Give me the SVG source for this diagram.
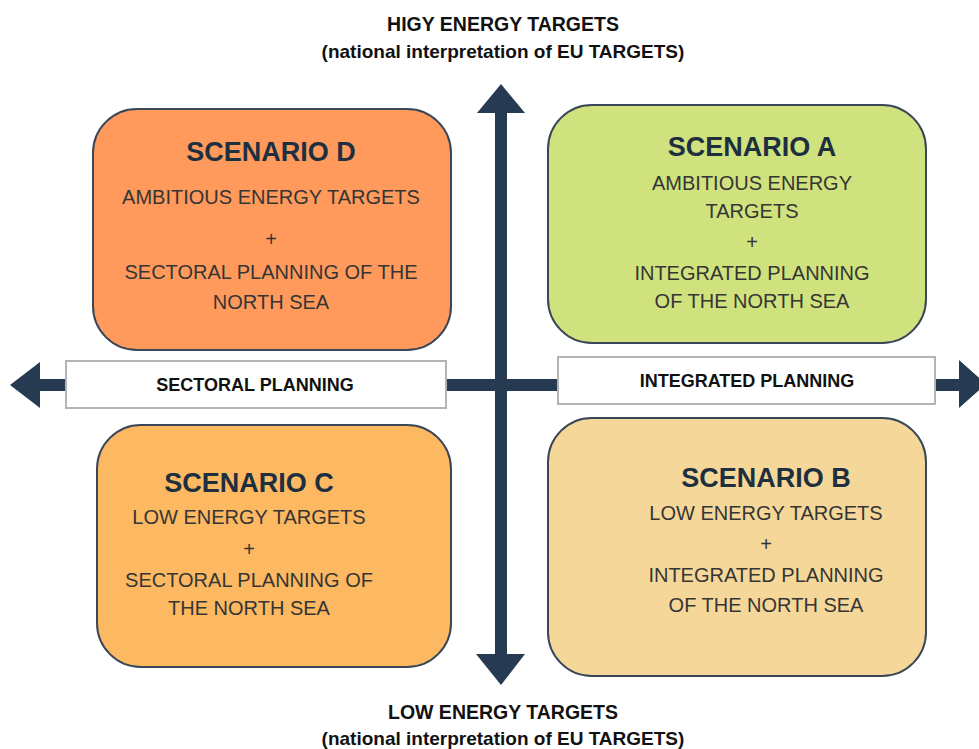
<svg xmlns="http://www.w3.org/2000/svg" width="979" height="749" viewBox="0 0 979 749">
<style>
  .box{stroke:#3a4758;stroke-width:2}
  .lbl{fill:#ffffff;stroke:#b4b4b4;stroke-width:2}
  .arrow{fill:#263a52}
  text{font-family:"Liberation Sans",Arial,sans-serif;text-anchor:middle}
  .axis{font-weight:bold;font-size:19.5px;fill:#111}
  .axsub{font-weight:bold;font-size:19px;fill:#111}
  .ttl{font-weight:bold;font-size:27px;fill:#1e2f40}
  .body{font-size:20px;fill:#353535}
  .plan{font-weight:bold;font-size:18px;fill:#111}
</style>
<rect width="979" height="749" fill="#ffffff"/>
<g id="connectors">
  <rect class="arrow" x="495" y="110" width="12" height="548"/>
  <polygon class="arrow" points="501,84 525,113 477,113"/>
  <polygon class="arrow" points="501,685 525,654 476,654"/>
  <rect class="arrow" x="38" y="379" width="924" height="12"/>
  <polygon class="arrow" points="10,385 40,362 40,408"/>
  <polygon class="arrow" points="986,384 959,360 959,408"/>
</g>
<g id="label-sectoral">
  <rect class="lbl" x="66" y="361" width="380" height="47"/>
  <text class="plan" x="255" y="391">SECTORAL PLANNING</text>
</g>
<g id="label-integrated">
  <rect class="lbl" x="558" y="357" width="377" height="47"/>
  <text class="plan" x="747" y="387">INTEGRATED PLANNING</text>
</g>
<g id="axis-top">
  <text class="axis" x="503" y="31">HIGY ENERGY TARGETS</text>
  <text class="axsub" x="503" y="58">(national interpretation of EU TARGETS)</text>
</g>
<g id="axis-bottom">
  <text class="axis" x="503" y="719">LOW ENERGY TARGETS</text>
  <text class="axsub" x="503" y="745">(national interpretation of EU TARGETS)</text>
</g>
<g id="scenario-d">
  <rect class="box" x="93" y="109" width="358" height="241" rx="44" fill="#ff9a5c"/>
  <text class="ttl" x="271" y="161">SCENARIO D</text>
  <text class="body" x="271" y="204">AMBITIOUS ENERGY TARGETS</text>
  <text class="body" x="271" y="246">+</text>
  <text class="body" x="271" y="279">SECTORAL PLANNING OF THE</text>
  <text class="body" x="271" y="309">NORTH SEA</text>
</g>
<g id="scenario-a">
  <rect class="box" x="548" y="105" width="378" height="238" rx="44" fill="#d0e27d"/>
  <text class="ttl" x="752" y="156">SCENARIO A</text>
  <text class="body" x="752" y="190">AMBITIOUS ENERGY</text>
  <text class="body" x="752" y="218">TARGETS</text>
  <text class="body" x="752" y="249">+</text>
  <text class="body" x="752" y="280">INTEGRATED PLANNING</text>
  <text class="body" x="752" y="308">OF THE NORTH SEA</text>
</g>
<g id="scenario-c">
  <rect class="box" x="97" y="425" width="354" height="242" rx="44" fill="#fdb862"/>
  <text class="ttl" x="249" y="492">SCENARIO C</text>
  <text class="body" x="249" y="524">LOW ENERGY TARGETS</text>
  <text class="body" x="249" y="556">+</text>
  <text class="body" x="249" y="587">SECTORAL PLANNING OF</text>
  <text class="body" x="249" y="615">THE NORTH SEA</text>
</g>
<g id="scenario-b">
  <rect class="box" x="548" y="418" width="378" height="258" rx="44" fill="#f5d899"/>
  <text class="ttl" x="766" y="487">SCENARIO B</text>
  <text class="body" x="766" y="520">LOW ENERGY TARGETS</text>
  <text class="body" x="766" y="551">+</text>
  <text class="body" x="766" y="582">INTEGRATED PLANNING</text>
  <text class="body" x="766" y="612">OF THE NORTH SEA</text>
</g>
</svg>
